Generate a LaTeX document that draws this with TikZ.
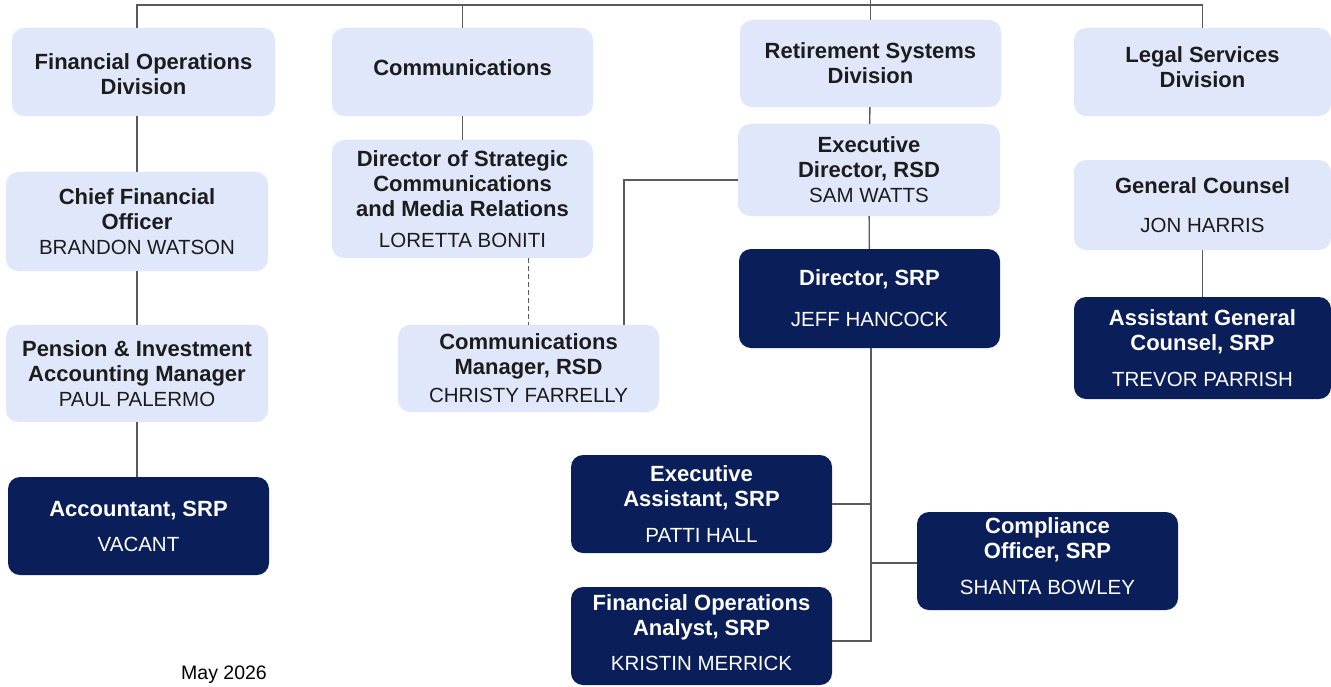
\documentclass[tikz,border=0pt]{standalone}
\usepackage{fontspec}
\setmainfont{Liberation Sans}
\definecolor{lightbox}{HTML}{E0E7FA}
\definecolor{navy}{HTML}{0A1F5A}
\definecolor{textdark}{HTML}{1C1C1C}
\definecolor{linegray}{HTML}{5A5A5A}
\newcommand{\nm}[1]{{\fontsize{20.5}{25}\selectfont\mdseries #1}}
\tikzset{
  basebox/.style={rectangle, rounded corners=12pt, minimum width=261pt, align=center, inner sep=0pt,
    font=\fontsize{22}{25}\selectfont\bfseries},
  lbox/.style={basebox, fill=lightbox, text=textdark},
  dbox/.style={basebox, fill=navy, text=white},
  conn/.style={draw=linegray, line width=1.4pt},
  dconn/.style={conn, dash pattern=on 5pt off 3pt},
}
\begin{document}
\begin{tikzpicture}[x=1pt,y=-1pt]
\useasboundingbox (0,0) rectangle (1331,686);
\fill[white] (0,0) rectangle (1331,686);
\coordinate (topbar) at (0,5);
\coordinate (topedge) at (0,0);
\coordinate (trunk) at (871,0);
% top level
\node[lbox, minimum width=263pt, minimum height=88pt] (fod) at (143.5,72) {\phantom{X}\\[-19pt]Financial Operations\\Division};
\node[lbox, minimum height=88pt] (comm) at (462.5,72) {Communications\\[-17pt]\phantom{X}};
\node[lbox, minimum height=87pt] (rsd) at (870.5,63.5) {Retirement Systems\\Division};
\node[lbox, minimum width=257pt, minimum height=88pt] (lsd) at (1202.5,72) {Legal Services\\Division\\[-16pt]\phantom{X}};
% left column
\node[lbox, minimum width=262pt, minimum height=99pt] (cfo) at (137,221.5) {Chief Financial\\Officer\\\nm{BRANDON WATSON}};
\node[lbox, minimum width=262pt, minimum height=97pt] (pim) at (137,373.5) {Pension \& Investment\\Accounting Manager\\\nm{PAUL PALERMO}};
\node[dbox, minimum height=98pt] (acc) at (138.5,526) {Accountant, SRP\\[10pt]\nm{VACANT}};
% communications column
\node[lbox, minimum height=118pt] (dsc) at (462.5,199) {Director of Strategic\\Communications\\and Media Relations\\[6pt]\nm{LORETTA BONITI}};
\node[lbox, minimum height=87pt] (cmr) at (528.5,368.5) {Communications\\Manager, RSD\\[3pt]\nm{CHRISTY FARRELLY}};
% RSD column
\node[lbox, minimum width=262pt, minimum height=92pt] (exd) at (869,170) {Executive\\Director, RSD\\\nm{SAM WATTS}};
\node[dbox, minimum height=99pt] (dsrp) at (869.5,298.5) {Director, SRP\\[16pt]\nm{JEFF HANCOCK}};
\node[dbox, minimum height=98pt] (ea) at (701.5,504) {Executive\\Assistant, SRP\\[11pt]\nm{PATTI HALL}};
\node[dbox, minimum height=98pt] (co) at (1047.5,561) {Compliance\\Officer, SRP\\[11pt]\nm{SHANTA BOWLEY}\\[-15pt]\phantom{X}};
\node[dbox, minimum height=98pt] (foa) at (701.5,636) {Financial Operations\\Analyst, SRP\\[10pt]\nm{KRISTIN MERRICK}\\[-19pt]\phantom{X}};
% legal column
\node[lbox, minimum width=257pt, minimum height=90pt] (gc) at (1202.5,205) {General Counsel\\[14pt]\nm{JON HARRIS}};
\node[dbox, minimum width=257pt, minimum height=102pt] (agc) at (1202.5,348) {Assistant General\\Counsel, SRP\\[11pt]\nm{TREVOR PARRISH}};
% date
\node[font=\fontsize{19.5}{22}\selectfont, text=black, anchor=west, inner sep=0pt] (date) at (181,675) {May 2026};
% connectors
\draw[conn] (cfo.north |- fod.north) -- (cfo.north |- topbar) -- (lsd.north |- topbar) -- (lsd.north);
\draw[conn] (comm.north) -- (comm.north |- topbar);
\draw[conn] (rsd.north) -- (rsd.north |- topedge);
\draw[conn] (cfo.north |- fod.south) -- (cfo.north);
\draw[conn] (cfo) -- (pim);
\draw[conn] (pim.south) -- (pim.south |- acc.north);
\draw[conn] (comm) -- (dsc);
\draw[dconn] (cmr.north |- dsc.south) -- (cmr.north);
\coordinate (cmrtop) at ([xshift=95.5pt]cmr.north);
\draw[conn] ([yshift=-10pt]exd.west) -| (cmrtop);
\draw[conn] (rsd) -- (exd);
\draw[conn] (exd) -- (dsrp);
\draw[conn] (gc) -- (agc);
\coordinate (trunkbot) at ([yshift=-5pt]foa.east);
\draw[conn] (dsrp.south -| trunk) -- (trunkbot -| trunk) -- (trunkbot);
\draw[conn] (ea.east) -- (ea.east -| trunk);
\draw[conn] ([yshift=-2pt]co.west) -- ([yshift=-2pt]co.west -| trunk);
\end{tikzpicture}
\end{document}
